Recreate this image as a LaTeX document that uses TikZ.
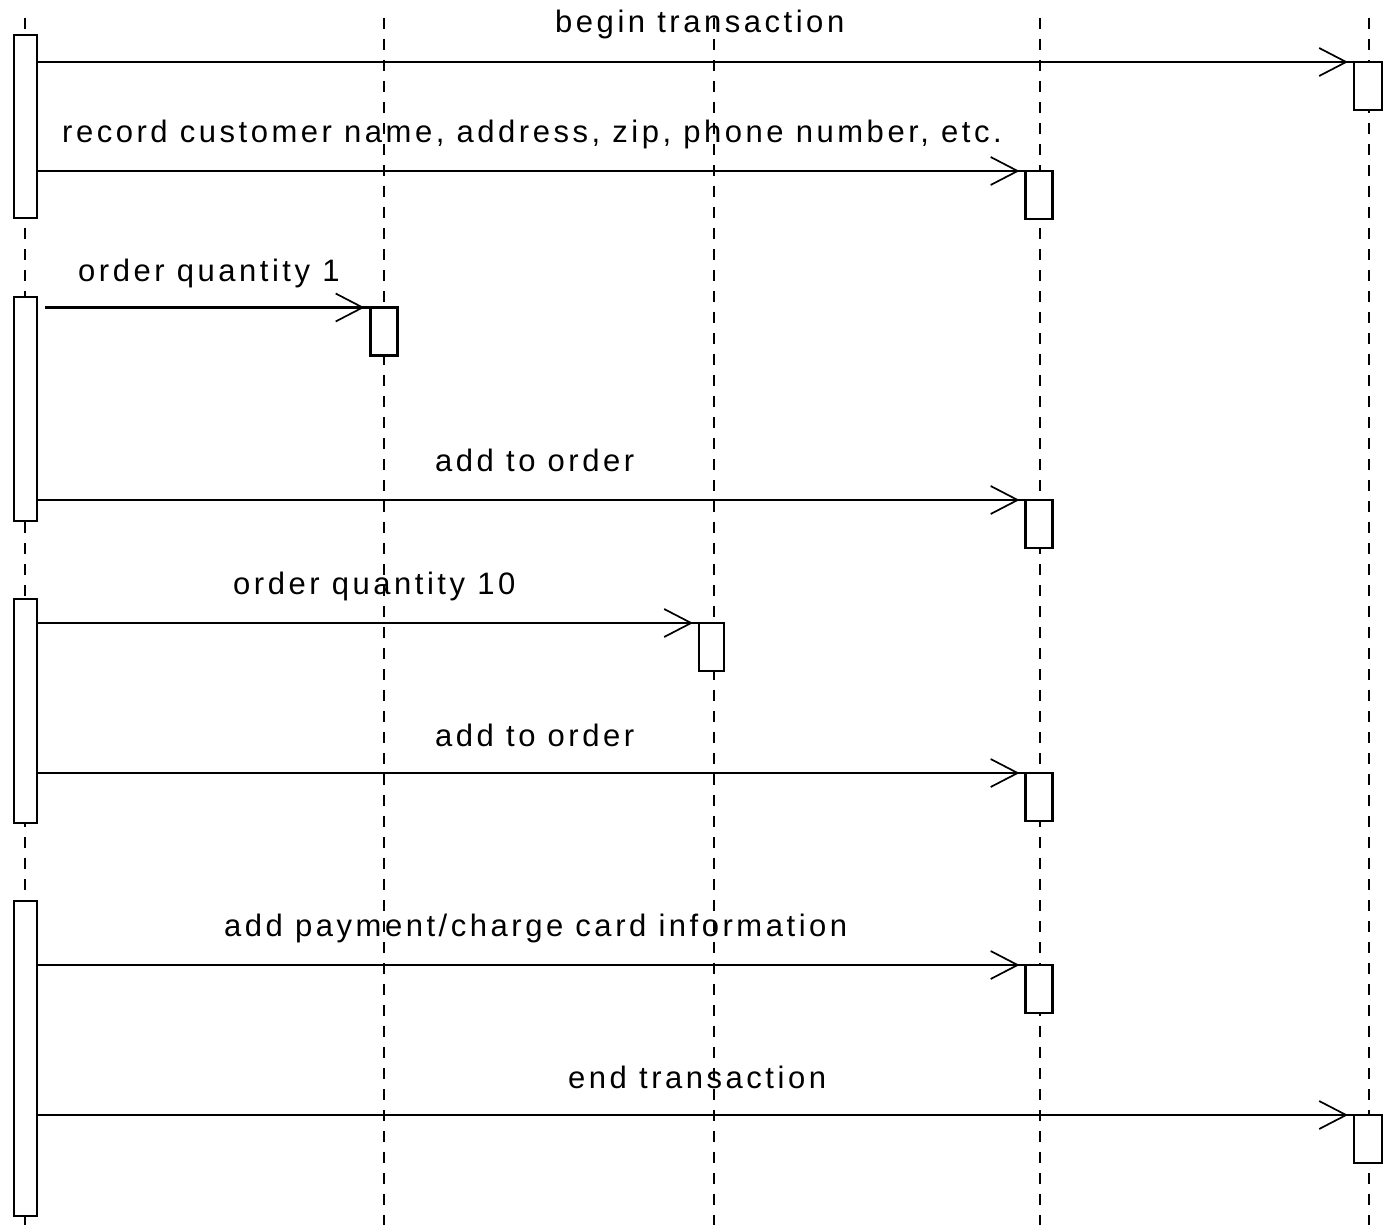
\documentclass[tikz,border=0pt]{standalone}
\usepackage{fontspec}
\newfontfamily\lblfont{Liberation Sans}[LetterSpace=11.4]
\usetikzlibrary{arrows.meta,decorations.markings,calc}
\begin{document}
\begin{tikzpicture}[x=1pt,y=-1pt,
  lifeline/.style={line width=2.8pt,dash pattern=on 11pt off 10pt},
  actbox/.style={draw,fill=white,line width=2.5pt,inner sep=0pt,outer sep=0pt,minimum width=27pt,minimum height=48pt},
  srcbox/.style={draw,fill=white,line width=2.5pt,inner sep=0pt,outer sep=0pt,minimum width=23pt},
  msg/.style={line width=2.4pt,postaction={decorate},
    decoration={markings,mark=at position -6pt with {\arrow[line width=1.7pt]{Straight Barb[length=27pt,width=28pt]}}}},
  lbl/.style={anchor=base west,inner sep=0pt,font=\lblfont\fontsize{31}{37}\selectfont}
]
\useasboundingbox (0,0) rectangle (1384,1225);
% lifelines
\foreach \n/\x in {a/25,b/384,c/714,d/1040,e/1369}{
  \coordinate (top\n) at (\x,18);
  \coordinate (bot\n) at (\x,1225);
  \draw[lifeline] (top\n) -- (bot\n);
}
% source activations
\node[srcbox,minimum height=183pt] (L1) at (25.5,126.5) {};
\node[srcbox,minimum height=224pt] (L2) at (25.5,409) {};
\node[srcbox,minimum height=224pt] (L3) at (25.5,711) {};
\node[srcbox,minimum height=315pt] (L4) at (25.5,1058.5) {};
% target activations
\node[actbox,minimum width=28pt] (T1) at (1368,86) {};
\node[actbox] (T2) at (1039,195) {};
\node[actbox] (T3) at (384,331.5) {};
\node[actbox] (T4) at (1039,524) {};
\node[actbox,minimum width=25pt] (T5) at (711.5,647) {};
\node[actbox] (T6) at (1039,797) {};
\node[actbox] (T7) at (1039,989) {};
\node[actbox,minimum width=28pt] (T8) at (1368,1139) {};
% messages
\draw[msg] (L1.east |- T1.north west) -- (T1.north west);
\draw[msg] (L1.east |- T2.north west) -- (T2.north west);
\coordinate (s3) at ($(L2.east |- T3.north west)+(8,0)$);
\draw[msg] (s3) -- (T3.north west);
\draw[msg] (L2.east |- T4.north west) -- (T4.north west);
\draw[msg] (L3.east |- T5.north west) -- (T5.north west);
\draw[msg] (L3.east |- T6.north west) -- (T6.north west);
\draw[msg] (L4.east |- T7.north west) -- (T7.north west);
\draw[msg] (L4.east |- T8.north west) -- (T8.north west);
% labels
\node[lbl] (m1) at (555,33) {begin transaction};
\node[lbl] (m2) at (62,143) {record customer name, address, zip, phone number, etc.};
\node[lbl] (m3) at (78,281) {order quantity 1};
\node[lbl] (m4) at (435,471) {add to order};
\node[lbl] (m5) at (233,594) {order quantity 10};
\node[lbl] (m6) at (435,746) {add to order};
\node[lbl] (m7) at (224,936) {add payment/charge card information};
\node[lbl] (m8) at (568,1088) {end transaction};
\end{tikzpicture}
\end{document}
